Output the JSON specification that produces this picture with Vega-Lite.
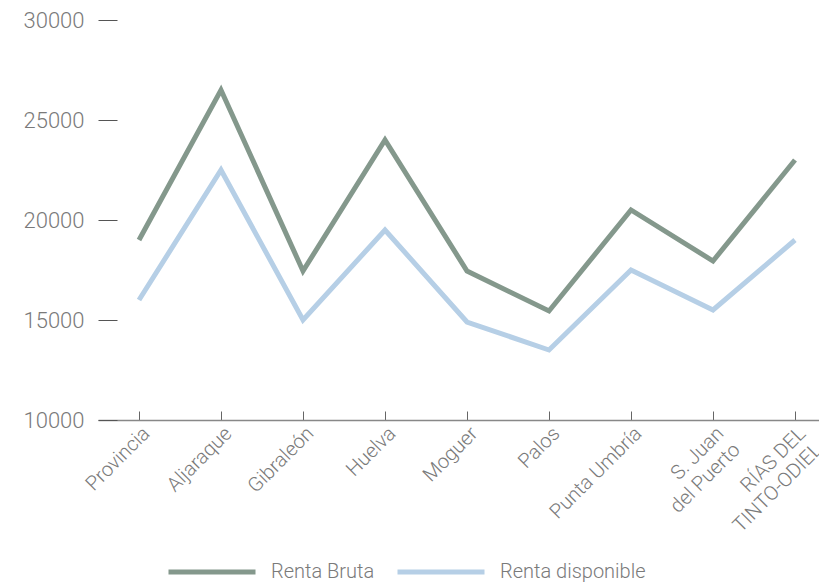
{
  "$schema": "https://vega.github.io/schema/vega-lite/v6.json",
  "autosize": "none",
  "width": 738,
  "height": 400,
  "padding": {"left": 98, "top": 20, "right": -17, "bottom": 162},
  "background": "white",
  "config": {
    "view": {"stroke": null},
    "font": "Roboto",
    "axis": {"labelFont": "Roboto", "labelFontWeight": 300, "labelColor": "#7a7a7a", "grid": false}
  },
  "data": {
    "values": [
      {"lugar": "Provincia", "serie": "Renta Bruta", "valor": 19000},
      {"lugar": "Aljaraque", "serie": "Renta Bruta", "valor": 26500},
      {"lugar": "Gibraleón", "serie": "Renta Bruta", "valor": 17450},
      {"lugar": "Huelva", "serie": "Renta Bruta", "valor": 24000},
      {"lugar": "Moguer", "serie": "Renta Bruta", "valor": 17450},
      {"lugar": "Palos", "serie": "Renta Bruta", "valor": 15450},
      {"lugar": "Punta Umbría", "serie": "Renta Bruta", "valor": 20500},
      {"lugar": "S. Juan\ndel Puerto", "serie": "Renta Bruta", "valor": 17950},
      {"lugar": "RÍAS DEL\nTINTO-ODIEL", "serie": "Renta Bruta", "valor": 23000},
      {"lugar": "Provincia", "serie": "Renta disponible", "valor": 16000},
      {"lugar": "Aljaraque", "serie": "Renta disponible", "valor": 22500},
      {"lugar": "Gibraleón", "serie": "Renta disponible", "valor": 15000},
      {"lugar": "Huelva", "serie": "Renta disponible", "valor": 19500},
      {"lugar": "Moguer", "serie": "Renta disponible", "valor": 14900},
      {"lugar": "Palos", "serie": "Renta disponible", "valor": 13500},
      {"lugar": "Punta Umbría", "serie": "Renta disponible", "valor": 17500},
      {"lugar": "S. Juan\ndel Puerto", "serie": "Renta disponible", "valor": 15500},
      {"lugar": "RÍAS DEL\nTINTO-ODIEL", "serie": "Renta disponible", "valor": 19000}
    ]
  },
  "mark": {"type": "line", "strokeWidth": 5, "strokeJoin": "miter", "strokeCap": "butt"},
  "encoding": {
    "x": {
      "field": "lugar",
      "type": "nominal",
      "sort": null,
      "scale": {"type": "point", "padding": 0.5},
      "axis": {
        "title": null,
        "labelAngle": -45,
        "labelFontSize": 20,
        "labelExpr": "split(datum.label, '\\n')",
        "labelLineHeight": 23,
        "labelPadding": 12,
        "tickSize": -9,
        "tickColor": "#666666",
        "domainColor": "#888888",
        "domainWidth": 1.5,
        "labelOverlap": false
      }
    },
    "y": {
      "field": "valor",
      "type": "quantitative",
      "scale": {"domain": [10000, 30000], "nice": false, "zero": false},
      "axis": {
        "title": null,
        "values": [10000, 15000, 20000, 25000, 30000],
        "format": "d",
        "domain": false,
        "tickSize": -19,
        "tickColor": "#555555",
        "labelFontSize": 22,
        "labelPadding": 33
      }
    },
    "color": {
      "field": "serie",
      "type": "nominal",
      "scale": {"domain": ["Renta Bruta", "Renta disponible"], "range": ["#84988c", "#b6cfe6"]},
      "legend": {
        "title": null,
        "orient": "none",
        "direction": "horizontal",
        "legendX": 68,
        "legendY": 506,
        "symbolType": "stroke",
        "symbolSize": 7569,
        "symbolStrokeWidth": 5,
        "labelFont": "Roboto",
        "labelFontWeight": 300,
        "labelFontSize": 20,
        "labelColor": "#7a7a7a",
        "labelOffset": 13,
        "columnPadding": 12
      }
    }
  }
}
